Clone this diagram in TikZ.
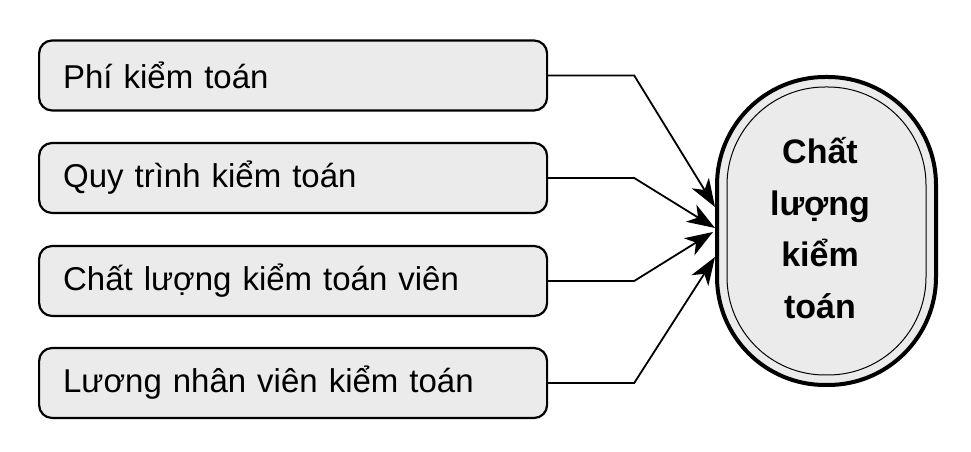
\documentclass[tikz,border=0pt]{standalone}
\usepackage{fontspec}
\setmainfont{Liberation Sans}
\usetikzlibrary{arrows.meta}
\definecolor{boxfill}{HTML}{EBEBEB}
\begin{document}
\begin{tikzpicture}[x=1pt,y=1pt,
  factor/.style={draw=black, line width=2.2pt, fill=boxfill, rounded corners=13pt,
    minimum height=70pt, text width=460pt, inner xsep=24pt, align=left,
    font=\fontsize{33}{40}\selectfont, anchor=west},
  link/.style={line width=1.8pt, -{Stealth[length=28pt,width=20pt,inset=8pt]}, line join=miter}
]
\useasboundingbox (0,0) rectangle (971,452);
\node[factor] (b1) at (38,376.5) {Phí kiểm toán};
\node[factor] (b2) at (38,274) {Quy trình kiểm toán};
\node[factor] (b3) at (38,171) {Chất lượng kiểm toán viên};
\node[factor] (b4) at (38,69) {Lương nhân viên kiểm toán};

\node[draw=black, line width=4pt, fill=boxfill, rectangle, rounded corners=108pt,
  minimum width=219pt, minimum height=308pt] (q) at (826.5,221) {};
\node[draw=black, line width=1pt, rectangle, rounded corners=98pt,
  minimum width=199pt, minimum height=288pt] (qi) at (826.5,221) {};
\node[align=center, font=\bfseries\fontsize{34}{51.7}\selectfont] (qt) at (820,224)
  {Chất\\lượng\\kiểm\\toán};

\coordinate (t1) at (715,245);
\coordinate (t2) at (715,224);
\coordinate (t3) at (713,220);
\coordinate (t4) at (715,195);

\draw[link] (b1.east) -- ++(86,0) -- (t1);
\draw[link] (b2.east) -- ++(86,0) -- (t2);
\draw[link] (b3.east) -- ++(86,0) -- (t3);
\draw[link] (b4.east) -- ++(86,0) -- (t4);
\end{tikzpicture}
\end{document}
